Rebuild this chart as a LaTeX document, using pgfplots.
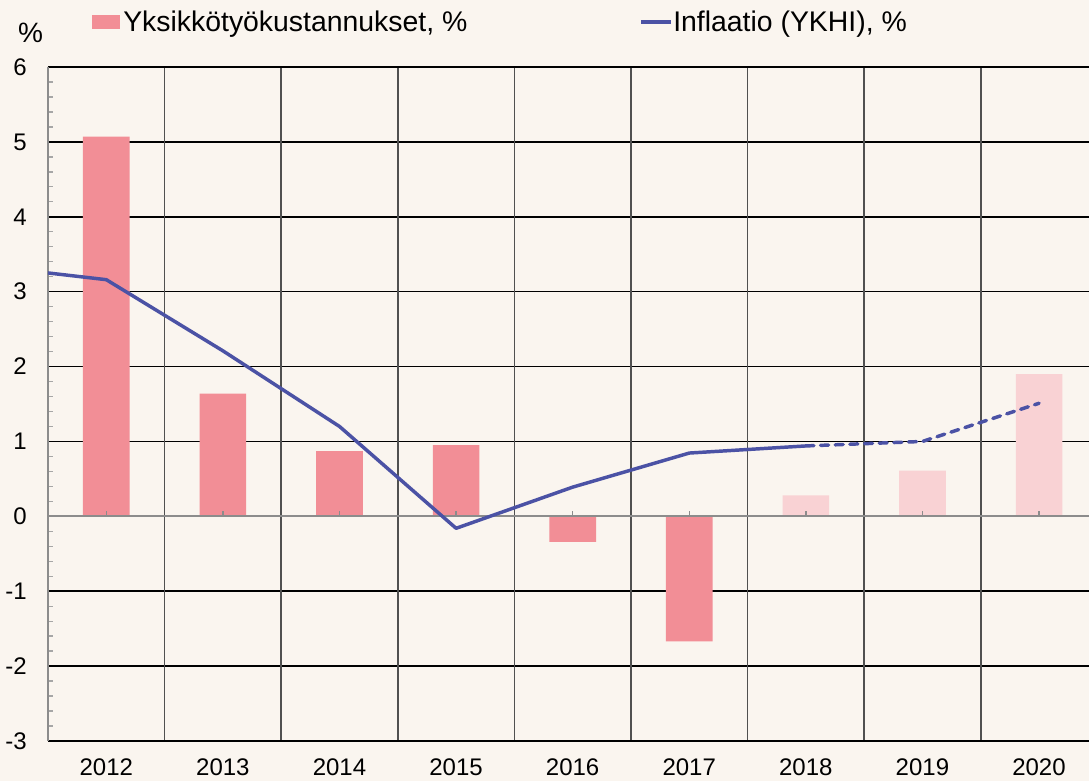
\documentclass[border=0pt]{standalone}
\usepackage{fontspec}
\setmainfont{Liberation Sans}
\usepackage{pgfplots}
\pgfplotsset{compat=1.18}
\definecolor{bg}{RGB}{250,245,239}
\definecolor{bardark}{RGB}{242,142,150}
\definecolor{barlight}{RGB}{249,210,212}
\definecolor{infl}{RGB}{75,82,165}
\definecolor{vgrid}{RGB}{80,80,80}
\begin{document}
\begin{tikzpicture}
\fill[bg] (-36pt,-30pt) rectangle (780.75pt,555.75pt);
\begin{axis}[
  at={(0,0)}, anchor=south west,
  width=780.75pt, height=505.5pt, scale only axis,
  xmin=2011.5, xmax=2020.428, ymin=-3, ymax=6,
  axis line style={draw=none},
  clip=false,
  /pgf/number format/assume math mode=true,
  /pgf/number format/1000 sep={},
  ytick={-3,...,6},
  minor y tick num=4,
  ytick pos=left, tick align=inside,
  major tick length=0pt, minor tick length=3.75pt,
  minor tick style={gray!70, line width=1pt},
  ymajorgrids, major grid style={black, line width=1.1pt},
  xtick={2012,...,2020},
  xtick style={draw=none},
  extra x ticks={2012.5,2013.5,2014.5,2015.5,2016.5,2017.5,2018.5,2019.5},
  extra x tick labels={},
  extra x tick style={grid=major, major grid style={vgrid, line width=1.1pt}, tick style={draw=none}},
  ticklabel style={font=\fontsize{18}{20}\selectfont, inner sep=0pt},
  yticklabel style={anchor=east, xshift=-15.75pt},
  xticklabel style={anchor=north, yshift=-12.75pt},
]
\addplot[ybar, bar width=35pt, bar shift=0pt, fill=bardark, draw=none] coordinates {
  (2012,5.07) (2013,1.64) (2014,0.87) (2015,0.95) (2016,-0.34) (2017,-1.67)};
\addplot[ybar, bar width=35pt, bar shift=0pt, fill=barlight, draw=none] coordinates {
  (2018,0.28) (2019,0.61) (2020,1.90)};
% axis frame lines
\addplot[black, line width=2pt] coordinates {(2011.5,6) (2020.428,6)};
\addplot[black, line width=2pt] coordinates {(2011.5,-3) (2020.428,-3)};
\addplot[gray!90, line width=1.5pt] coordinates {(2011.5,0) (2020.428,0)};
\addplot[gray!90, line width=1.5pt] coordinates {(2011.5,-3) (2011.5,6)};
\addplot[ycomb, gray!90, line width=1pt, no marks] coordinates {
  (2012,0.07) (2013,0.07) (2014,0.07) (2015,0.07) (2016,0.07) (2017,0.07) (2018,0.07) (2019,0.07) (2020,0.07)};
% inflation
\addplot[infl, line width=2.6pt, line join=round] coordinates {
  (2011.5,3.25) (2012,3.16) (2013,2.21) (2014,1.20) (2015,-0.16) (2016,0.39) (2017,0.845) (2018,0.94)};
\addplot[infl, line width=2.6pt, line cap=round, dash pattern=on 6pt off 5pt] coordinates {
  (2018,0.94) (2019,1.00) (2020,1.51)};
\end{axis}
% legend and unit
\fill[bardark] (33pt,534pt) rectangle (54pt,544.5pt);
\node[anchor=base west, inner sep=0pt, font=\fontsize{21.3}{24}\selectfont] at (56.25pt,531.75pt) {Yksikkötyökustannukset, \%};
\draw[infl, line width=2.6pt] (444.75pt,539.25pt) -- (467.25pt,539.25pt);
\node[anchor=base west, inner sep=0pt, font=\fontsize{21.3}{24}\selectfont] at (468.75pt,531.75pt) {Inflaatio (YKHI), \%};
\node[anchor=base, inner sep=0pt, font=\fontsize{21}{23}\selectfont] at (-13.1pt,523.5pt) {\%};
\pgfresetboundingbox
\useasboundingbox (-36pt,-30pt) rectangle (780.75pt,555.75pt);
\end{tikzpicture}
\end{document}
